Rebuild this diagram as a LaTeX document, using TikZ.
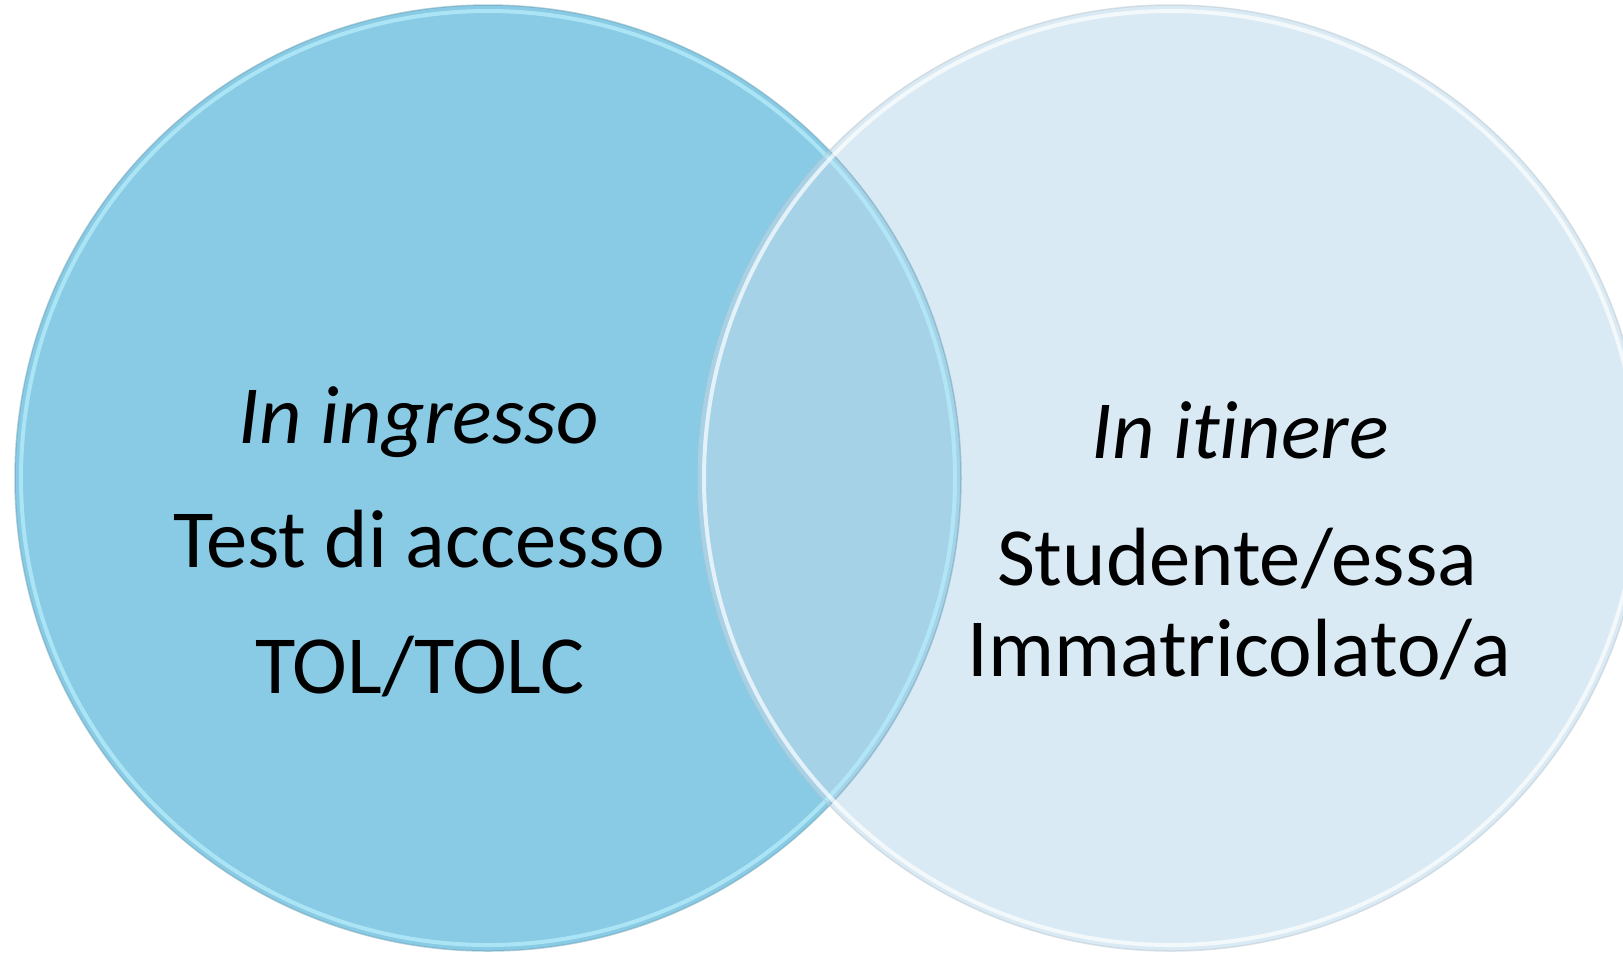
\documentclass[tikz,border=0pt]{standalone}
\usepackage{fontspec}
\setmainfont[Ligatures={NoCommon}]{Carlito}
\begin{document}
\begin{tikzpicture}[x=0.01cm,y=-0.01cm,
  lbl/.style={anchor=base,inner sep=0pt,font=\fontsize{23.5}{28}\selectfont},
  rimL/.style={draw=rimL,line width=4*0.01cm},
  rimR/.style={draw=white,line width=4*0.01cm}]
\definecolor{cL}{RGB}{137,202,228}
\definecolor{cR}{RGB}{218,234,244}
\definecolor{cO}{RGB}{166,210,232}
\definecolor{rimL}{RGB}{180,236,250}
\useasboundingbox (0,0) rectangle (1623,953);
\clip (0,0) rectangle (1623,953);
\coordinate (L) at (488,478);
\coordinate (R) at (1171,478);
\fill[cL] (L) circle (473);
\fill[cR] (R) circle (473);
\begin{scope}
  \clip (L) circle (473);
  \fill[cO] (R) circle (473);
\end{scope}
\draw[rimL,opacity=0.8] (L) circle (467);
\draw[draw=cL!80!black,line width=1.5*0.01cm,opacity=0.5] (L) circle (473);
\draw[rimR,opacity=0.7] (R) circle (467);
\draw[draw=cR!85!black,line width=1.5*0.01cm,opacity=0.5] (R) circle (473);
\node[lbl] (t1) at (419,443) {\itshape In ingresso};
\node[lbl] (t2) at (419,567) {Test di accesso};
\node[lbl] (t3) at (420,693) {TOL/TOLC};
\node[lbl] (t4) at (1240,458) {\itshape In itinere};
\node[lbl] (t5) at (1237,585) {Studente/essa};
\node[lbl] (t6) at (1239,676) {Immatricolato/a};
\end{tikzpicture}
\end{document}
